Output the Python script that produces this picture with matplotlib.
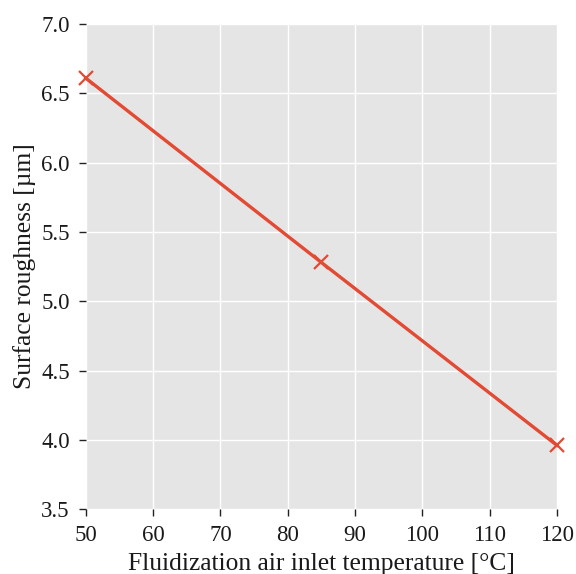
import matplotlib
matplotlib.use("Agg")
import matplotlib.pyplot as plt

temperature = [50, 85, 120]
roughness = [6.61, 5.28, 3.96]
xticks = [50, 60, 70, 80, 90, 100, 110, 120]
yticks = [3.5, 4.0, 4.5, 5.0, 5.5, 6.0, 6.5, 7.0]

plt.rcParams['font.family'] = ['Liberation Serif', 'DejaVu Serif']

fig = plt.figure(figsize=(5.76, 5.74), dpi=100)
ax = fig.add_axes([0.149, 0.113, 0.818, 0.845])
ax.set_facecolor('#E5E5E5')
for s in ax.spines.values():
    s.set_visible(False)
ax.grid(True, color='white', linewidth=1.0)
ax.set_axisbelow(True)

ax.plot(temperature, roughness, color='#E24A33', linewidth=2.4, marker='x',
        markersize=10, markeredgewidth=1.6, clip_on=False, zorder=3)

ax.set_xlim(50, 120)
ax.set_ylim(3.5, 7.0)
ax.set_xticks(xticks)
ax.set_yticks(yticks)
ax.set_yticklabels([f"{v:.1f}" for v in yticks])
ax.tick_params(direction='out', length=5, width=1, color='#222222', labelsize=16.5, labelcolor='#1a1a1a', pad=6.5)
ax.set_xlabel('Fluidization air inlet temperature [°C]', fontsize=18.4, color='#1a1a1a', labelpad=5)
ax.set_ylabel('Surface roughness [µm]', fontsize=18.4, color='#1a1a1a', labelpad=4)

fig.savefig('out.png', dpi=100)
